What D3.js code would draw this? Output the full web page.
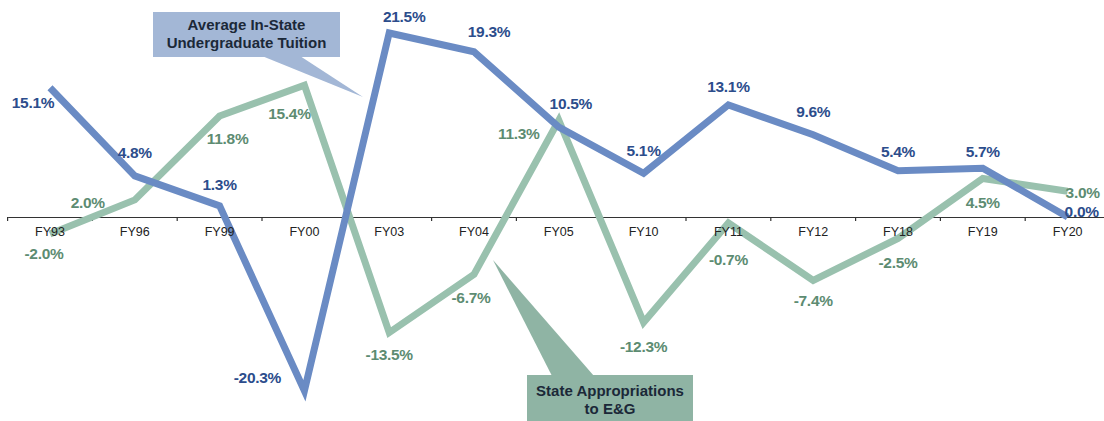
<!DOCTYPE html>
<html><head><meta charset="utf-8">
<script src="https://cdn.jsdelivr.net/npm/d3@7"></script>
<style>body{margin:0;background:#fff;}svg{display:block;font-family:"Liberation Sans",Arial,sans-serif;}</style>
</head><body>
<svg id="c" width="1104" height="421"></svg>
<script>
const categories = ["FY93","FY96","FY99","FY00","FY03","FY04","FY05","FY10","FY11","FY12","FY18","FY19","FY20"];
const tuition = [15.1, 4.8, 1.3, -20.3, 21.5, 19.3, 10.5, 5.1, 13.1, 9.6, 5.4, 5.7, 0.0];
const appropriations = [-2.0, 2.0, 11.8, 15.4, -13.5, -6.7, 11.3, -12.3, -0.7, -7.4, -2.5, 4.5, 3.0];
const tuitionName = ["Average In-State", "Undergraduate Tuition"];
const appropName = ["State Appropriations", "to E&G"];

// label placement (offsets from the point, in px)
const tuitionDx = [-17, 0, 0, -47, 15, 15, 12, 0, 0, 0, 0, 0, 15];
const tuitionDy = [15, -23, -21, -13, -16, -20, -24, -23, -18, -23, -19, -17, -5];
const appropDx = [-6, -47, 8, -15, 0, -3, -40, 0, 0, 0, 0, 0, 16];
const appropDy = [19, 3, 23, 28, 22, 23, 13, 24, 37, 20, 24, 24, 1];

const svg = d3.select("#c");
const x = d3.scaleBand().domain(categories).range([7.6, 1110]).padding(0);
const y = d3.scaleLinear().domain([-25, 25]).range([431, 3]);
const cx = c => x(c) + x.bandwidth() / 2;

const C = {tLine:"#6a8bc4", tText:"#2c4d8c", aLine:"#99c1ae", aText:"#5d8c72", tBox:"#a3b7d6", aBox:"#8fb4a4"};

// axis line and boundary ticks (behind the lines)
const axis = d3.axisBottom(x).tickSize(0).tickPadding(10);
const gLine = svg.append("g").attr("transform", `translate(0,${y(0)})`).call(axis);
gLine.selectAll(".tick").remove();
gLine.select(".domain").attr("stroke", "#333").attr("stroke-width", 1.2);
gLine.selectAll(".bt").data(categories).enter().append("line")
  .attr("x1", d => x(d)).attr("x2", d => x(d)).attr("y1", 0).attr("y2", 4)
  .attr("stroke", "#333").attr("stroke-width", 1.2);

const line = d3.line().x((d, i) => cx(categories[i])).y(d => y(d));

svg.append("path").datum(appropriations).attr("d", line)
  .attr("fill", "none").attr("stroke", C.aLine).attr("stroke-width", 7).attr("stroke-linejoin", "miter");
svg.append("path").datum(tuition).attr("d", line)
  .attr("fill", "none").attr("stroke", C.tLine).attr("stroke-width", 7).attr("stroke-linejoin", "miter");

// axis labels (on top of the lines)
const gx = svg.append("g").attr("transform", `translate(0,${y(0)})`).call(axis);
gx.select(".domain").remove();
gx.selectAll(".tick text").attr("font-size", 12.5).attr("fill", "#222")
  .attr("font-family", "Liberation Sans, Arial, sans-serif");

function labels(vals, dx, dy, color) {
  svg.append("g").selectAll("text").data(vals).enter().append("text")
    .attr("x", (d, i) => cx(categories[i]) + dx[i] - (i === vals.length - 1 ? 18 : 0))
    .attr("y", (d, i) => y(d) + dy[i])
    .attr("dy", "0.35em")
    .attr("text-anchor", (d, i) => i === vals.length - 1 ? "start" : "middle")
    .attr("font-size", 15.5).attr("font-weight", "bold").attr("fill", color)
    .attr("letter-spacing", "-0.3")
    .text(d => d.toFixed(1) + "%");
}
labels(appropriations, appropDx, appropDy, C.aText);
labels(tuition, tuitionDx, tuitionDy, C.tText);

// callout 1
svg.append("polygon").attr("points", "262,56 300,56 363,97").attr("fill", C.tBox);
svg.append("rect").attr("x", 153).attr("y", 12).attr("width", 187).attr("height", 45).attr("fill", C.tBox);
svg.append("g").selectAll("text").data(tuitionName).enter().append("text")
  .attr("x", 246.5).attr("y", (d, i) => 30 + i * 18).attr("text-anchor", "middle")
  .attr("font-size", 15).attr("font-weight", "bold").attr("fill", "#1b2838").text(d => d);

// callout 2
svg.append("polygon").attr("points", "552,376 594,376 493,260").attr("fill", C.aBox);
svg.append("rect").attr("x", 527).attr("y", 375).attr("width", 166).attr("height", 46).attr("fill", C.aBox);
svg.append("g").selectAll("text").data(appropName).enter().append("text")
  .attr("x", 610).attr("y", (d, i) => 396 + i * 18).attr("text-anchor", "middle")
  .attr("font-size", 15).attr("font-weight", "bold").attr("fill", "#1b2838").text(d => d);
</script>
</body></html>
